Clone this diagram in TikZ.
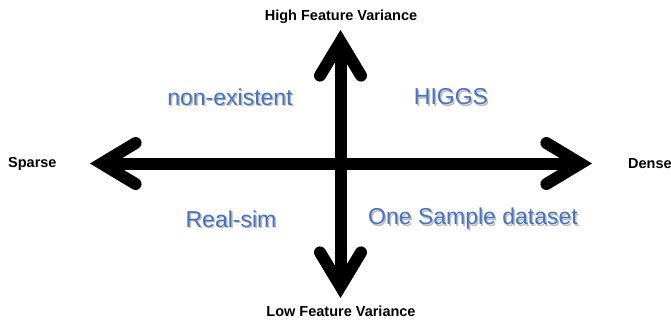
\documentclass[tikz,border=0pt]{standalone}
\usepackage{fontspec}
\setmainfont{Liberation Sans}
\definecolor{qblue}{RGB}{72,114,196}
\definecolor{qshadow}{RGB}{190,190,190}
\begin{document}
\begin{tikzpicture}[x=1pt,y=-1pt,
  shaft/.style={line width=12pt, line cap=butt},
  chev/.style={line width=12pt, line cap=round, line join=miter, miter limit=10},
  axislabel/.style={font=\fontsize{14.5}{16}\selectfont\bfseries, inner sep=0pt},
  quadlabel/.style={font=\fontsize{23}{26}\selectfont, text=qblue, inner sep=0pt},
  quadshadow/.style={font=\fontsize{23}{26}\selectfont, text=qshadow, inner sep=0pt}]
\useasboundingbox (0,0) rectangle (671,322);
% arrow ends
\coordinate (L) at (101.6,163.5);
\coordinate (R) at (580.4,163.5);
\coordinate (T) at (340.5,41.6);
\coordinate (B) at (340.5,286.4);
% shafts
\draw[shaft] (L) -- (R);
\draw[shaft] (T) -- (B);
% heads
\draw[chev] ([shift={(34,-20.5)}]L) -- (L) -- ([shift={(34,20.5)}]L);
\draw[chev] ([shift={(-34,-20.5)}]R) -- (R) -- ([shift={(-34,20.5)}]R);
\draw[chev] ([shift={(-20.5,34)}]T) -- (T) -- ([shift={(20.5,34)}]T);
\draw[chev] ([shift={(-20.5,-34)}]B) -- (B) -- ([shift={(20.5,-34)}]B);
% axis labels
\node[axislabel] (hi) at (341,17) {High Feature Variance};
\node[axislabel] (lo) at (341,311) {Low Feature Variance};
\node[axislabel, anchor=west] (sp) at (8,164) {Sparse};
\node[axislabel, anchor=west] (de) at (628,164) {Dense};
% quadrant labels with soft shadow
\node[quadshadow] at (231.5,98.5) {non-existent};
\node[quadlabel] (ne) at (230,97) {non-existent};
\node[quadshadow] at (452.5,98.5) {HIGGS};
\node[quadlabel] (hg) at (451,97) {HIGGS};
\node[quadshadow] at (232.5,220.5) {Real-sim};
\node[quadlabel] (rs) at (231,219) {Real-sim};
\node[quadshadow] at (474.5,220.5) {One Sample dataset};
\node[quadlabel] (os) at (473,219) {One Sample dataset};
\end{tikzpicture}
\end{document}
